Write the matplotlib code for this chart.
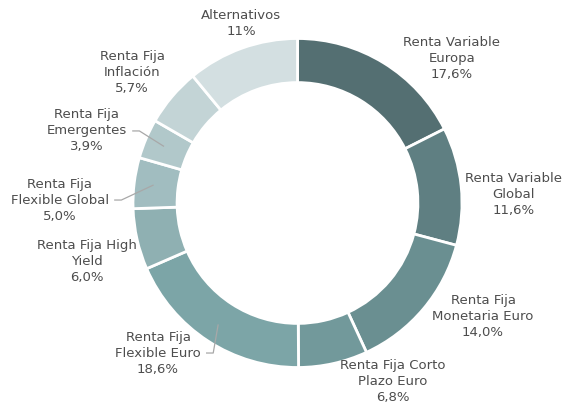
import matplotlib
matplotlib.use("Agg")
import matplotlib.pyplot as plt
import numpy as np

labels = [
    "Renta Variable\nEuropa",
    "Renta Variable\nGlobal",
    "Renta Fija\nMonetaria Euro",
    "Renta Fija Corto\nPlazo Euro",
    "Renta Fija\nFlexible Euro",
    "Renta Fija High\nYield",
    "Renta Fija\nFlexible Global",
    "Renta Fija\nEmergentes",
    "Renta Fija\nInflación",
    "Alternativos",
]
values = [17.6, 11.6, 14.0, 6.8, 18.6, 6.0, 5.0, 3.9, 5.7, 11.0]
value_text = ["17,6%", "11,6%", "14,0%", "6,8%", "18,6%", "6,0%", "5,0%", "3,9%", "5,7%", "11%"]
colors = ["#546f72", "#5f7f82", "#6a8f91", "#72999b", "#7ca5a7",
          "#8fb0b2", "#a1bdc0", "#b1c8ca", "#c3d4d6", "#d3dfe1"]

# label centres (radius units) and which ones get a leader line
label_pos = [(0.939, 0.881), (1.315, 0.049), (1.128, -0.687), (0.581, -1.088), (-0.848, -0.912),
             (-1.280, -0.353), (-1.444, 0.018), (-1.280, 0.438), (-1.006, 0.796), (-0.343, 1.094)]
leader = {4, 6, 7}

fig = plt.figure(figsize=(5.64, 4.05), dpi=100)
ax = fig.add_axes([0, 0, 1, 1])

wedges, _ = ax.pie(values, colors=colors, startangle=90, counterclock=False,
                   radius=1.0, wedgeprops=dict(width=0.268, edgecolor="white", linewidth=2))
ax.set_xlim(-1.8085, 1.620)
ax.set_ylim(-1.228, 1.234)
ax.axis("off")

renderer = fig.canvas.get_renderer()
inv = ax.transData.inverted()
font = dict(fontsize=9.5, color="#4d4d4d")

total = sum(values)
cum = np.cumsum([0] + values)
for i, (lab, vt) in enumerate(zip(labels, value_text)):
    mid = 90 - (cum[i] + values[i] / 2) / total * 360
    tx, ty = label_pos[i]
    ax.text(tx, ty, f"{lab}\n{vt}", ha="center", va="center", linespacing=1.3, **font)
    if i in leader:
        # measure the middle line so the leader starts just after it
        probe = ax.text(tx, ty, lab.split("\n")[1], ha="center", va="center", **font)
        bb = probe.get_window_extent(renderer)
        probe.remove()
        ex = inv.transform((bb.x1, 0))[0] + 0.035
        px = 0.885 * np.cos(np.radians(mid))
        py = 0.885 * np.sin(np.radians(mid))
        ax.plot([ex, ex + 0.04, px], [ty, ty, py], color="#a8a8a8", linewidth=0.9)

fig.savefig("out.png", dpi=100)
